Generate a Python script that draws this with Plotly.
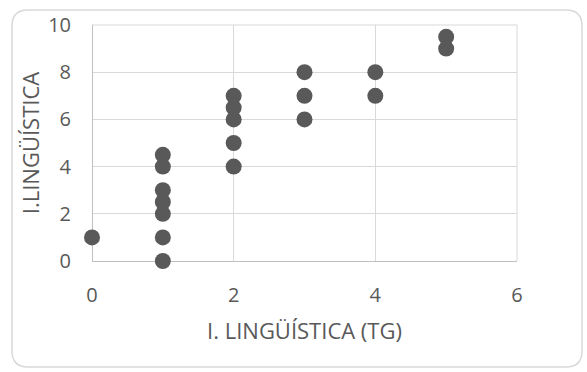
import plotly.graph_objects as go

# I. Lingüística (TG) vs I. Lingüística scores
x_tg = [0, 1, 1, 1, 1, 1, 1, 1, 2, 2, 2, 2, 2, 3, 3, 3, 4, 4, 5, 5]
y_ling = [1, 0, 1, 2, 2.5, 3, 4, 4.5, 4, 5, 6, 6.5, 7, 6, 7, 8, 7, 8, 9, 9.5]

x_ticks = [0, 2, 4, 6]
y_ticks = [0, 2, 4, 6, 8, 10]

W, H = 587, 372
ML, MR, MT, MB = 92, 70, 25, 111

text_color = "#595959"
grid_color = "#d9d9d9"
font_family = "Open Sans, Liberation Sans, sans-serif"

fig = go.Figure(
    go.Scatter(
        x=x_tg,
        y=y_ling,
        mode="markers",
        marker=dict(size=16, color="#595959"),
        cliponaxis=False,
        hoverinfo="x+y",
    )
)

# Rounded chart-area border drawn in pixel offsets from the plot's lower-left corner
left, right, top, bottom = 12 - ML, 582 - ML, (H - MB) - 10, (H - MB) - 367
r = 16
path = (
    f"M {left + r},{top} L {right - r},{top} Q {right},{top} {right},{top - r} "
    f"L {right},{bottom + r} Q {right},{bottom} {right - r},{bottom} "
    f"L {left + r},{bottom} Q {left},{bottom} {left},{bottom + r} "
    f"L {left},{top - r} Q {left},{top} {left + r},{top} Z"
)

shapes = [
    dict(
        type="path",
        xref="paper",
        yref="paper",
        xsizemode="pixel",
        ysizemode="pixel",
        xanchor=0,
        yanchor=0,
        path=path,
        line=dict(color=grid_color, width=1.5),
        fillcolor="rgba(0,0,0,0)",
        layer="below",
    ),
    # top and right edges of the plot frame, matching the gridlines
    dict(type="line", xref="paper", yref="paper", x0=0, x1=1, y0=1, y1=1,
         line=dict(color=grid_color, width=1), layer="below"),
    dict(type="line", xref="paper", yref="paper", x0=1, x1=1, y0=0, y1=1,
         line=dict(color=grid_color, width=1), layer="below"),
]

fig.update_layout(
    width=W,
    height=H,
    margin=dict(l=ML, r=MR, t=MT, b=MB),
    paper_bgcolor="white",
    plot_bgcolor="white",
    showlegend=False,
    font=dict(family=font_family, color=text_color, size=20),
    shapes=shapes,
    xaxis=dict(
        range=[0, 6],
        tickvals=x_ticks,
        showgrid=True,
        gridcolor=grid_color,
        gridwidth=1,
        zeroline=True,
        zerolinecolor="#bfbfbf",
        zerolinewidth=1,
        showline=False,
        ticks="",
        ticklabelstandoff=20,
        tickfont=dict(size=20, color=text_color),
        title=dict(text="I. LINGÜÍSTICA (TG)", font=dict(size=22, color=text_color), standoff=16),
    ),
    yaxis=dict(
        range=[0, 10],
        tickvals=y_ticks,
        showgrid=True,
        gridcolor=grid_color,
        gridwidth=1,
        zeroline=True,
        zerolinecolor="#bfbfbf",
        zerolinewidth=1,
        showline=False,
        ticks="",
        ticklabelstandoff=20,
        tickfont=dict(size=20, color=text_color),
        title=dict(text="I.LINGÜÍSTICA", font=dict(size=22, color=text_color), standoff=2),
    ),
)

fig.write_html("out.html")
